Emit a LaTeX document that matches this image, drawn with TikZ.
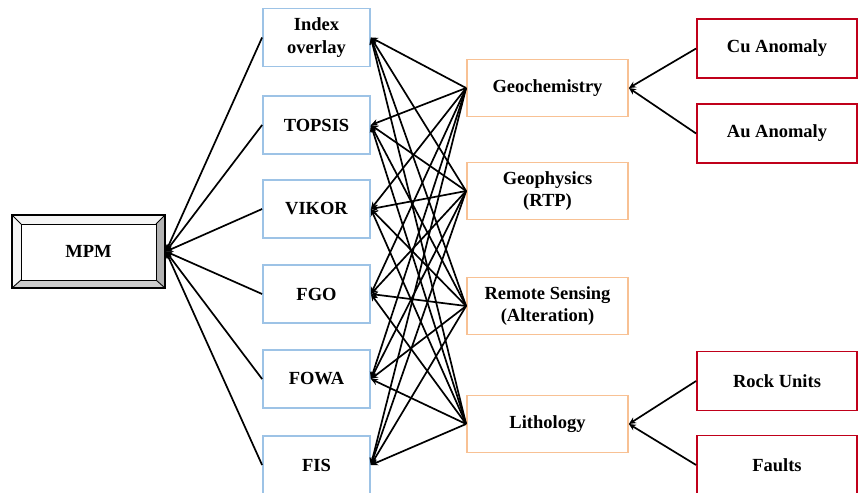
\documentclass[tikz,border=0pt]{standalone}
\usepackage{fontspec}
\setmainfont{Liberation Serif}
\usetikzlibrary{arrows.meta}
\definecolor{bluebox}{HTML}{9DC3E6}
\definecolor{orangebox}{HTML}{F8C194}
\definecolor{redbox}{HTML}{C0001A}
\tikzset{
  base/.style={rectangle, line width=1.8pt, inner sep=0pt, align=center,
    font=\fontsize{18.5}{22.5}\selectfont\bfseries, fill=white},
  leftbox/.style={base, draw=bluebox, minimum width=107pt, minimum height=58pt},
  midbox/.style={base, draw=orangebox, minimum width=161pt, minimum height=57pt},
  rightbox/.style={base, draw=redbox, minimum width=160pt, minimum height=59pt},
  arr/.style={line width=1.7pt, -{Stealth[length=7pt,width=6.5pt]}},
}
\begin{document}
\begin{tikzpicture}[x=1pt,y=-1pt]
\useasboundingbox (0,0) rectangle (858,492);
% MPM bevel box
\fill[white!92!gray] (12,215) -- (165,215) -- (156,224) -- (21,224) -- (21,280) -- (12,288) -- cycle;
\fill[gray!60] (165,215) -- (165,288) -- (156,280) -- (156,224) -- cycle;
\fill[gray!40] (12,288) -- (165,288) -- (156,280) -- (21,280) -- cycle;
\draw[line width=1.2pt] (12,215) rectangle (165,288);
\draw[line width=0.9pt] (21,224) rectangle (156,280);
\draw[line width=0.9pt] (12,215) -- (21,224) (165,215) -- (156,224) (12,288) -- (21,280) (165,288) -- (156,280);
\node[base, fill=none, minimum width=153pt, minimum height=73pt] (mpm) at (88.5,251.5) {MPM};
% left column
\node[leftbox] (idx) at (316.5,37.5) {Index\\overlay};
\node[leftbox] (topsis) at (316.5,125) {TOPSIS};
\node[leftbox] (vikor) at (316.5,209) {VIKOR};
\node[leftbox] (fgo) at (316.5,294) {FGO};
\node[leftbox] (fowa) at (316.5,379) {FOWA};
\node[leftbox] (fis) at (316.5,465) {FIS};
% middle column
\node[midbox] (geo) at (547.5,88) {Geochemistry};
\node[midbox] (phy) at (547.5,191) {Geophysics\\(RTP)};
\node[midbox] (rs) at (547.5,306) {Remote Sensing\\(Alteration)};
\node[midbox] (lit) at (547.5,424) {Lithology};
% right column
\node[rightbox] (cu) at (777,48.5) {Cu Anomaly};
\node[rightbox] (au) at (777,133.5) {Au Anomaly};
\node[rightbox] (rock) at (777,381) {Rock Units};
\node[rightbox] (faults) at (777,465) {Faults};
% connectors left -> MPM
\foreach \n in {idx,topsis,vikor,fgo,fowa,fis}
  \draw[arr] (\n.west) -- (mpm.east);
% middle -> left
\foreach \m in {geo,phy,rs,lit}
  \foreach \n in {idx,topsis,vikor,fgo,fowa,fis}
    \draw[arr] (\m.west) -- (\n.east);
% right -> middle
\draw[arr] (cu.west) -- (geo.east);
\draw[arr] (au.west) -- (geo.east);
\draw[arr] (rock.west) -- (lit.east);
\draw[arr] (faults.west) -- (lit.east);
\end{tikzpicture}
\end{document}
